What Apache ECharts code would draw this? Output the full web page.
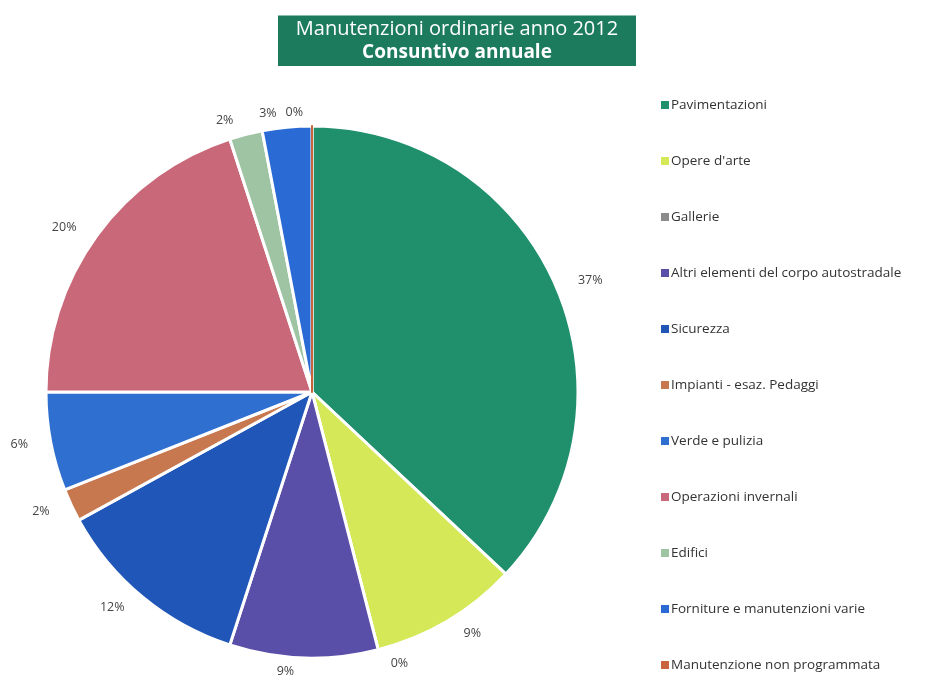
<!DOCTYPE html>
<html>
<head>
<meta charset="utf-8">
<script src="https://cdn.jsdelivr.net/npm/echarts@6/dist/echarts.min.js"></script>
<style>
  html, body { margin: 0; padding: 0; background: #fff; }
  #chart { width: 934px; height: 684px; }
</style>
</head>
<body>
<div id="chart"></div>
<script>
// Voci di spesa e quota percentuale sul consuntivo annuale
const categories = [
  'Pavimentazioni',
  "Opere d'arte",
  'Gallerie',
  'Altri elementi del corpo autostradale',
  'Sicurezza',
  'Impianti - esaz. Pedaggi',
  'Verde e pulizia',
  'Operazioni invernali',
  'Edifici',
  'Forniture e manutenzioni varie',
  'Manutenzione non programmata'
];
const shares = [37, 9, 0, 9, 12, 2, 6, 20, 2, 3, 0];

const palette = [
  '#1f8f6c', '#d4e858', '#8c8c8c', '#5a4fa8', '#1f56b8', '#c8784e',
  '#2f6fd0', '#c96878', '#9ec4a4', '#2a6ad4', '#c8643c'
];

const chart = echarts.init(document.getElementById('chart'), null, { renderer: 'canvas' });

chart.setOption({
  animation: false,
  backgroundColor: '#ffffff',
  color: palette,
  title: {
    left: 278,
    top: 14,
    padding: [4, 4, 4, 4],
    backgroundColor: '#1b7b5c',
    text: '{a|Manutenzioni ordinarie anno 2012}\n{b|Consuntivo annuale}',
    textStyle: {
      align: 'center',
      fontWeight: 'normal',
      rich: {
        a: { color: '#ffffff', fontFamily: 'Open Sans', fontSize: 20, fontWeight: 'normal', lineHeight: 23, width: 350, align: 'center' },
        b: { color: '#ffffff', fontFamily: 'Open Sans', fontSize: 19, fontWeight: 'bold', lineHeight: 23, width: 350, align: 'center' }
      }
    }
  },
  legend: {
    orient: 'vertical',
    left: 656,
    top: 92,
    itemWidth: 8,
    itemHeight: 8,
    itemGap: 40,
    icon: 'rect',
    itemStyle: { borderWidth: 0 },
    textStyle: { fontFamily: 'Open Sans', fontSize: 13.5, color: '#333', lineHeight: 16, padding: [0, 0, 0, -3] },
    data: categories
  },
  series: [{
    type: 'pie',
    center: [312, 392],
    radius: 266,
    startAngle: 90,
    clockwise: true,
    avoidLabelOverlap: false,
    itemStyle: { borderColor: '#ffffff', borderWidth: 3 },
    label: {
      show: true,
      position: 'outside',
      formatter: p => Math.round(p.value) + '%',
      fontFamily: 'Open Sans',
      fontSize: 12.5,
      color: '#444'
    },
    labelLine: { show: false, length: 14, length2: 4 },
    emphasis: { disabled: true },
    data: categories.map((name, i) => {
      const item = { name: name, value: shares[i] };
      if (name === 'Manutenzione non programmata') {
        item.itemStyle = { borderColor: '#c8643c', borderWidth: 2 };
      }
      return item;
    })
  }]
});
</script>
</body>
</html>
